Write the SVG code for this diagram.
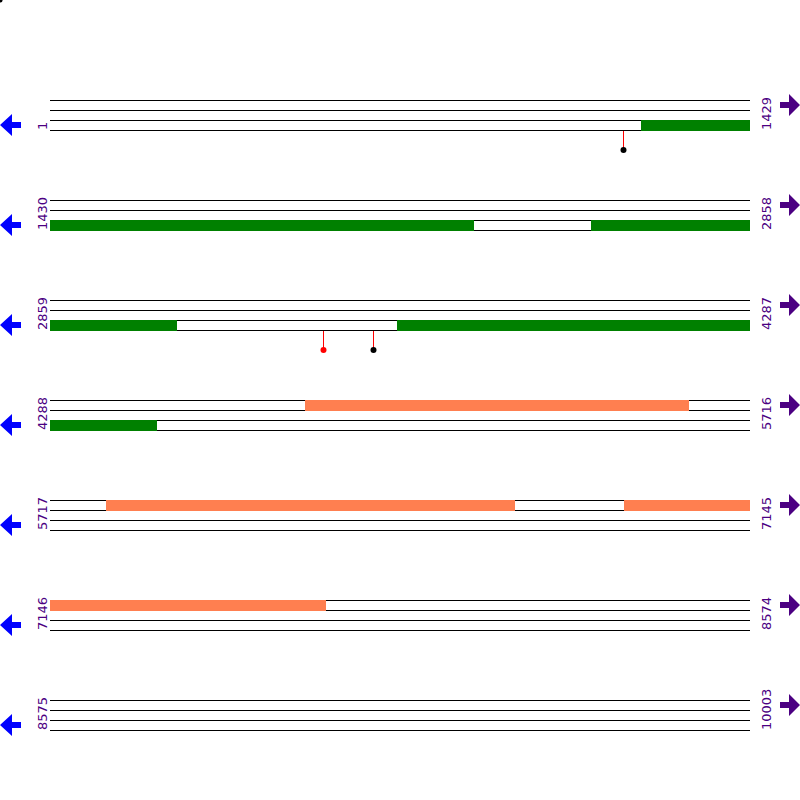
<svg xmlns="http://www.w3.org/2000/svg" width="800" height="800" viewBox="0 0 800 800">
<style>
.ln{stroke:#000;stroke-width:1;fill:none}
.lbl{font-family:"DejaVu Sans",sans-serif;font-size:13px;fill:#4B0082}
.g{fill:#008000}
.o{fill:#FF7F50}
.larr{fill:#0000FF}
.rarr{fill:#4B0082}
.stem{stroke:#FF0000;stroke-width:1}
</style>
<defs>
<g id="tracks">
<line class="ln" x1="50" y1="0.5" x2="750" y2="0.5"/>
<line class="ln" x1="50" y1="10.5" x2="750" y2="10.5"/>
<line class="ln" x1="50" y1="20.5" x2="750" y2="20.5"/>
<line class="ln" x1="50" y1="30.5" x2="750" y2="30.5"/>
</g>
<path id="la" d="M0,25 L12,14 L12,22 L21,22 L21,28 L12,28 L12,36 Z"/>
<path id="ra" d="M800,5 L789,-6 L789,2 L780,2 L780,8 L789,8 L789,16 Z"/>
</defs>
<circle cx="0.5" cy="0.5" r="2" fill="#000"/>

<g id="row1" transform="translate(0,100)">
<use href="#tracks"/>
<rect class="g" x="641" y="20" width="109" height="11"/>
<use href="#la" class="larr"/><use href="#ra" class="rarr"/>
<text class="lbl" transform="translate(47,30) rotate(-90)">1</text>
<text class="lbl" transform="translate(771,30) rotate(-90)">1429</text>
</g>
<g id="row2" transform="translate(0,200)">
<use href="#tracks"/>
<rect class="g" x="50" y="20" width="424" height="11"/>
<rect class="g" x="591" y="20" width="159" height="11"/>
<use href="#la" class="larr"/><use href="#ra" class="rarr"/>
<text class="lbl" transform="translate(47,30) rotate(-90)">1430</text>
<text class="lbl" transform="translate(771,30) rotate(-90)">2858</text>
</g>
<g id="row3" transform="translate(0,300)">
<use href="#tracks"/>
<rect class="g" x="50" y="20" width="127" height="11"/>
<rect class="g" x="397" y="20" width="353" height="11"/>
<use href="#la" class="larr"/><use href="#ra" class="rarr"/>
<text class="lbl" transform="translate(47,30) rotate(-90)">2859</text>
<text class="lbl" transform="translate(771,30) rotate(-90)">4287</text>
</g>
<g id="row4" transform="translate(0,400)">
<use href="#tracks"/>
<rect class="o" x="305" y="0" width="384" height="11"/>
<rect class="g" x="50" y="20" width="107" height="11"/>
<use href="#la" class="larr"/><use href="#ra" class="rarr"/>
<text class="lbl" transform="translate(47,30) rotate(-90)">4288</text>
<text class="lbl" transform="translate(771,30) rotate(-90)">5716</text>
</g>
<g id="row5" transform="translate(0,500)">
<use href="#tracks"/>
<rect class="o" x="106" y="0" width="409" height="11"/>
<rect class="o" x="624" y="0" width="126" height="11"/>
<use href="#la" class="larr"/><use href="#ra" class="rarr"/>
<text class="lbl" transform="translate(47,30) rotate(-90)">5717</text>
<text class="lbl" transform="translate(771,30) rotate(-90)">7145</text>
</g>
<g id="row6" transform="translate(0,600)">
<use href="#tracks"/>
<rect class="o" x="50" y="0" width="276" height="11"/>
<use href="#la" class="larr"/><use href="#ra" class="rarr"/>
<text class="lbl" transform="translate(47,30) rotate(-90)">7146</text>
<text class="lbl" transform="translate(771,30) rotate(-90)">8574</text>
</g>
<g id="row7" transform="translate(0,700)">
<use href="#tracks"/>
<use href="#la" class="larr"/><use href="#ra" class="rarr"/>
<text class="lbl" transform="translate(47,30) rotate(-90)">8575</text>
<text class="lbl" transform="translate(771,30) rotate(-90)">10003</text>
</g>

<g id="connectors">
<line class="stem" x1="623.5" y1="131" x2="623.5" y2="150"/>
<circle cx="623.5" cy="150" r="3" fill="#000"/>
<line class="stem" x1="323.5" y1="331" x2="323.5" y2="350"/>
<circle cx="323.5" cy="350" r="3" fill="#FF0000"/>
<line class="stem" x1="373.5" y1="331" x2="373.5" y2="350"/>
<circle cx="373.5" cy="350" r="3" fill="#000"/>
</g>
</svg>
